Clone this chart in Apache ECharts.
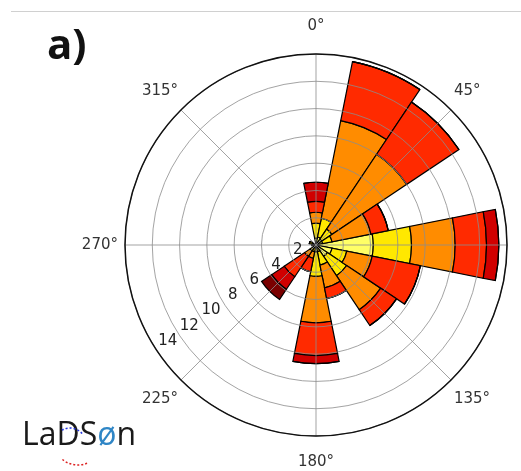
<!DOCTYPE html>
<html>
<head>
<meta charset="utf-8">
<script src="https://cdn.jsdelivr.net/npm/echarts@6/dist/echarts.min.js"></script>
<style>
  html, body { margin: 0; padding: 0; background: #fff; }
  #chart { width: 521px; height: 471px; }
</style>
</head>
<body>
<div id="chart"></div>
<script>
// 16 compass sectors, clockwise from north
const DIRECTIONS = ['N', 'NNE', 'NE', 'ENE', 'E', 'ESE', 'SE', 'SSE', 'S', 'SSW', 'SW', 'WSW', 'W', 'WNW', 'NW', 'NNW']
const SPEED_BINS = ['bin 1', 'bin 2', 'bin 3', 'bin 4', 'bin 5', 'bin 6']

// stacked frequency per bin (innermost first), one value per direction
const BIN1 = [0.5, 0.6, 0.5, 0.5, 4.2, 1.2, 1.0, 0.5, 0.5, 0.2, 0.2, 0.1, 0.2, 0.3, 0.1, 0.1]
const BIN2 = [1.1, 1.4, 0.9, 0.7, 2.8, 1.1, 1.7, 1.0, 1.8, 0.3, 0.3, 0, 0.1, 0.2, 0, 0]
const BIN3 = [0.8, 7.3, 6.6, 2.9, 3.2, 1.9, 3.0, 1.7, 3.4, 0.5, 0.5, 0, 0, 0, 0, 0]
const BIN4 = [0.8, 4.4, 4.6, 1.3, 2.3, 3.6, 1.4, 0.8, 2.4, 1.0, 1.8, 0, 0, 0, 0, 0]
const BIN5 = [1.4, 0, 0, 0, 0.9, 0, 0, 0, 0.6, 0, 1.1, 0, 0, 0, 0, 0]
const BIN6 = [0, 0, 0, 0, 0, 0, 0, 0, 0, 0, 0.9, 0, 0, 0, 0, 0]
const BIN_VALUES = [BIN1, BIN2, BIN3, BIN4, BIN5, BIN6]
const BIN_COLORS = ['#ffff66', '#ffe800', '#ff8c00', '#ff2a00', '#d00000', '#7a0000']

const ANGLE_TICKS = [0, 45, 90, 135, 180, 225, 270, 315]
const RADIUS_TICKS = [2, 4, 6, 8, 10, 12, 14]

const CENTER = [316, 245]
const R = 191

const chart = echarts.init(document.getElementById('chart'))

// per-label nudges so the direction labels sit like matplotlib's
const anglePad = {
  0: [0, 0, 16, 0], 45: [0, 0, 9, 0], 135: [9, 0, 0, 0], 180: [15, 0, 0, 0],
  225: [9, 0, 0, 0], 270: [0, 3, 0, 0], 315: [0, 0, 9, 0],
}
const angleRich = {}
ANGLE_TICKS.forEach(a => {
  angleRich['p' + a] = { padding: anglePad[a] || 0, fontSize: 15, color: '#333', fontFamily: 'DejaVu Sans' }
})

const series = BIN_VALUES.map((vals, i) => ({
  name: SPEED_BINS[i],
  type: 'bar',
  coordinateSystem: 'polar',
  polarIndex: 0,
  stack: 'rose',
  data: vals,
  barCategoryGap: '0%',
  silent: true,
  itemStyle: { color: BIN_COLORS[i], borderColor: '#000', borderWidth: 1.2 },
}))

chart.setOption({
  animation: false,
  title: {
    text: 'a)', left: 42, top: 21,
    textStyle: { fontSize: 42, fontWeight: 'bold', fontFamily: 'Open Sans', color: '#111' },
  },
  polar: [
    { center: CENTER, radius: R },
    { center: CENTER, radius: R },
    { center: CENTER, radius: [17.8, 176.5] },
  ],
  angleAxis: [
    {
      polarIndex: 0, type: 'category', data: DIRECTIONS, startAngle: 90 + 11.25, clockwise: true,
      axisLine: { show: false }, axisTick: { show: false }, axisLabel: { show: false }, splitLine: { show: false },
    },
    {
      polarIndex: 1, type: 'value', min: 0, max: 360, interval: 45, startAngle: 90, clockwise: true, z: 5,
      axisLine: { lineStyle: { color: '#111', width: 1.5 } },
      axisTick: { show: false },
      axisLabel: {
        margin: 4,
        formatter: v => (ANGLE_TICKS.includes(v) && v !== 90) ? `{p${v}|${v}°}` : '',
        rich: angleRich,
      },
      splitLine: { show: true, lineStyle: { color: 'rgba(140,140,140,0.8)', width: 1 } },
    },
    {
      polarIndex: 2, type: 'value', min: 0, max: 360, startAngle: 215, clockwise: true,
      axisLine: { show: false }, axisTick: { show: false }, axisLabel: { show: false }, splitLine: { show: false },
    },
  ],
  radiusAxis: [
    { polarIndex: 0, type: 'value', min: 0, max: 14, show: false },
    {
      polarIndex: 1, type: 'value', min: 0, max: 14, interval: 2, z: 5,
      axisLine: { show: false }, axisTick: { show: false }, axisLabel: { show: false },
      splitLine: { show: true, lineStyle: { color: 'rgba(140,140,140,0.8)', width: 1 } },
    },
    {
      polarIndex: 2, type: 'value', min: RADIUS_TICKS[0], max: RADIUS_TICKS[RADIUS_TICKS.length - 1], interval: 2, z: 6,
      axisLine: { show: false }, axisTick: { show: false }, splitLine: { show: false },
      axisLabel: {
        align: 'center', verticalAlign: 'middle', margin: -6.5,
        fontSize: 15, color: '#222', fontFamily: 'DejaVu Sans',
      },
    },
  ],
  graphic: [
    { type: 'line', shape: { x1: 11, y1: 11.5, x2: 521, y2: 11.5 }, style: { stroke: '#d0d0d0', lineWidth: 1 } },
    {
      type: 'text', left: 22, top: 420,
      style: {
        text: '{a|LaDS}{b|ø}{a|n}',
        rich: {
          a: { fontSize: 32, fontFamily: 'Open Sans', fill: '#1a1a1a' },
          b: { fontSize: 32, fontFamily: 'Open Sans', fill: '#2f86c6' },
        },
      },
    },
    { type: 'arc', shape: { cx: 70, cy: 444, r: 16, startAngle: -2.1, endAngle: -0.6 }, style: { stroke: '#2233dd', lineWidth: 1.5, lineDash: [2, 2], fill: null } },
    { type: 'arc', shape: { cx: 78, cy: 440, r: 25, startAngle: 1.2, endAngle: 2.3 }, style: { stroke: '#dd2222', lineWidth: 1.5, lineDash: [2, 2], fill: null } },
  ],
  series,
})
</script>
</body>
</html>
